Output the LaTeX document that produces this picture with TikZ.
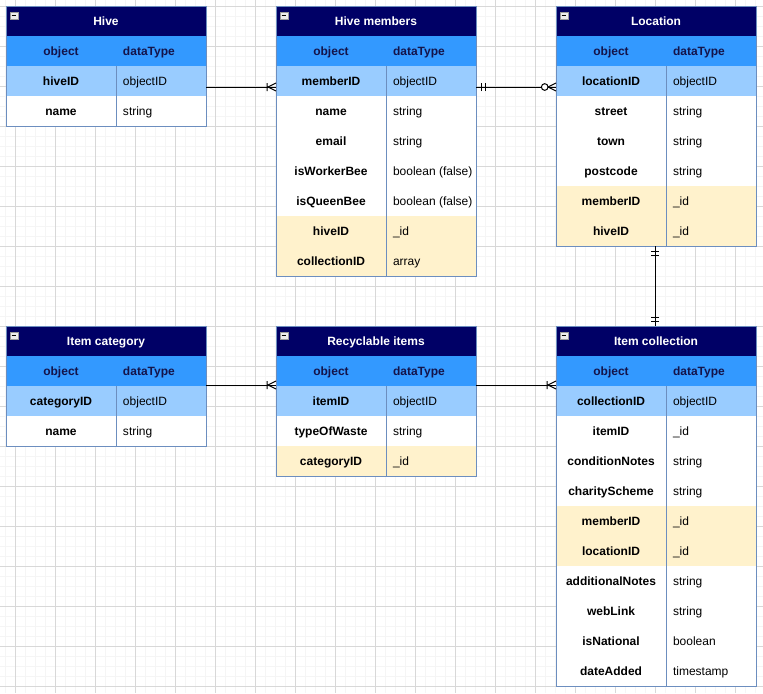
\documentclass[tikz,border=0pt]{standalone}
\usepackage{fontspec}
\setmainfont{Liberation Sans}
\usetikzlibrary{positioning}

\definecolor{titlenavy}{HTML}{000066}
\definecolor{headblue}{HTML}{3399FF}
\definecolor{keyblue}{HTML}{99CCFF}
\definecolor{fkcream}{HTML}{FFF2CC}
\definecolor{edgeblue}{HTML}{6C8EBF}
\definecolor{headtext}{HTML}{14144A}
\definecolor{gridmajor}{HTML}{D8D8D8}
\definecolor{gridminor}{HTML}{F5F5F5}

% one table row: bold name centred, type left aligned
\newcommand{\fld}[2]{\makebox[82.5pt][c]{\bfseries #1}\makebox[67.5pt][l]{\hspace{5.25pt}#2}}

\begin{document}
\begin{tikzpicture}[
  x=0.75pt, y=-0.75pt,
  font=\fontsize{9}{11}\selectfont,
  every node/.style={inner sep=0pt, outer sep=0pt},
  cell/.style={minimum width=150pt, minimum height=22.5pt, text height=7.2pt, text depth=0pt},
  tabtitle/.style={cell, fill=titlenavy, text=white, font=\fontsize{9}{11}\selectfont\bfseries, anchor=north west},
  colhead/.style={cell, fill=headblue, text=headtext},
  field/.style={cell, path picture={\draw[edgeblue, line width=0.75pt]
    ([xshift=82.5pt]path picture bounding box.north west) -- ([xshift=82.5pt]path picture bounding box.south west);}},
  pkey/.style={field, fill=keyblue},
  attr/.style={field, fill=white},
  fkey/.style={field, fill=fkcream},
  tabedge/.style={draw=edgeblue, line width=0.75pt},
  collapse/.style={minimum width=6pt, minimum height=5.25pt, fill=gray!15, draw=gray!80, line width=0.4pt,
    path picture={\draw[black, line width=1pt] ([xshift=1.2pt]path picture bounding box.west) -- ([xshift=-1.2pt]path picture bounding box.east);}},
  rel/.style={draw=black, line width=0.75pt},
  minorline/.style={draw=gridminor, line width=0.75pt},
  majorline/.style={draw=gridmajor, line width=0.75pt},
  pics/onemany/.style={code={\draw[rel] (-9,-4) -- (-9,4) (0,-4) -- (-8,0) -- (0,4);}},
  pics/mandone/.style={code={\draw[rel] (-5,-4) -- (-5,4) (-9,-4) -- (-9,4);}},
  pics/zeromany/.style={code={\draw[rel] (0,-4) -- (-8,0) -- (0,4); \draw[rel, fill=white] (-11.3,0) circle[radius=2.5pt];}}
]
\useasboundingbox (0,0) rectangle (763,693);
% background grid
\fill[white] (0,0) rectangle (763,693);
\foreach \gx in {5,15,...,763} \draw[minorline] (\gx,0) -- (\gx,693);
\foreach \gy in {6,16,...,693} \draw[minorline] (0,\gy) -- (763,\gy);
\foreach \gx in {15,55,...,763} \draw[majorline] (\gx,0) -- (\gx,693);
\foreach \gy in {6,46,...,693} \draw[majorline] (0,\gy) -- (763,\gy);

% Hive
\node[tabtitle] (hive) at (6,6) {Hive};
\node[colhead, below=0pt of hive] (hive-0) {\fld{object}{\bfseries dataType}};
\node[pkey, below=0pt of hive-0] (hive-1) {\fld{hiveID}{objectID}};
\node[attr, below=0pt of hive-1] (hive-2) {\fld{name}{string}};
\draw[tabedge] (hive.north west) rectangle (hive-2.south east);
\node[collapse] at ([shift={(8,9.5)}]hive.north west) {};

% Hive members
\node[tabtitle] (mem) at (276,6) {Hive members};
\node[colhead, below=0pt of mem] (mem-0) {\fld{object}{\bfseries dataType}};
\node[pkey, below=0pt of mem-0] (mem-1) {\fld{memberID}{objectID}};
\node[attr, below=0pt of mem-1] (mem-2) {\fld{name}{string}};
\node[attr, below=0pt of mem-2] (mem-3) {\fld{email}{string}};
\node[attr, below=0pt of mem-3] (mem-4) {\fld{isWorkerBee}{boolean (false)}};
\node[attr, below=0pt of mem-4] (mem-5) {\fld{isQueenBee}{boolean (false)}};
\node[fkey, below=0pt of mem-5] (mem-6) {\fld{hiveID}{\_id}};
\node[fkey, below=0pt of mem-6] (mem-7) {\fld{collectionID}{array}};
\draw[tabedge] (mem.north west) rectangle (mem-7.south east);
\node[collapse] at ([shift={(8,9.5)}]mem.north west) {};

% Location
\node[tabtitle] (loc) at (556,6) {Location};
\node[colhead, below=0pt of loc] (loc-0) {\fld{object}{\bfseries dataType}};
\node[pkey, below=0pt of loc-0] (loc-1) {\fld{locationID}{objectID}};
\node[attr, below=0pt of loc-1] (loc-2) {\fld{street}{string}};
\node[attr, below=0pt of loc-2] (loc-3) {\fld{town}{string}};
\node[attr, below=0pt of loc-3] (loc-4) {\fld{postcode}{string}};
\node[fkey, below=0pt of loc-4] (loc-5) {\fld{memberID}{\_id}};
\node[fkey, below=0pt of loc-5] (loc-6) {\fld{hiveID}{\_id}};
\draw[tabedge] (loc.north west) rectangle (loc-6.south east);
\node[collapse] at ([shift={(8,9.5)}]loc.north west) {};

% Item category
\node[tabtitle] (cat) at (6,326) {Item category};
\node[colhead, below=0pt of cat] (cat-0) {\fld{object}{\bfseries dataType}};
\node[pkey, below=0pt of cat-0] (cat-1) {\fld{categoryID}{objectID}};
\node[attr, below=0pt of cat-1] (cat-2) {\fld{name}{string}};
\draw[tabedge] (cat.north west) rectangle (cat-2.south east);
\node[collapse] at ([shift={(8,9.5)}]cat.north west) {};

% Recyclable items
\node[tabtitle] (rec) at (276,326) {Recyclable items};
\node[colhead, below=0pt of rec] (rec-0) {\fld{object}{\bfseries dataType}};
\node[pkey, below=0pt of rec-0] (rec-1) {\fld{itemID}{objectID}};
\node[attr, below=0pt of rec-1] (rec-2) {\fld{typeOfWaste}{string}};
\node[fkey, below=0pt of rec-2] (rec-3) {\fld{categoryID}{\_id}};
\draw[tabedge] (rec.north west) rectangle (rec-3.south east);
\node[collapse] at ([shift={(8,9.5)}]rec.north west) {};

% Item collection
\node[tabtitle] (col) at (556,326) {Item collection};
\node[colhead, below=0pt of col] (col-0) {\fld{object}{\bfseries dataType}};
\node[pkey, below=0pt of col-0] (col-1) {\fld{collectionID}{objectID}};
\node[attr, below=0pt of col-1] (col-2) {\fld{itemID}{\_id}};
\node[attr, below=0pt of col-2] (col-3) {\fld{conditionNotes}{string}};
\node[attr, below=0pt of col-3] (col-4) {\fld{charityScheme}{string}};
\node[fkey, below=0pt of col-4] (col-5) {\fld{memberID}{\_id}};
\node[fkey, below=0pt of col-5] (col-6) {\fld{locationID}{\_id}};
\node[attr, below=0pt of col-6] (col-7) {\fld{additionalNotes}{string}};
\node[attr, below=0pt of col-7] (col-8) {\fld{webLink}{string}};
\node[attr, below=0pt of col-8] (col-9) {\fld{isNational}{boolean}};
\node[attr, below=0pt of col-9] (col-10) {\fld{dateAdded}{timestamp}};
\draw[tabedge] (col.north west) rectangle (col-10.south east);
\node[collapse] at ([shift={(8,9.5)}]col.north west) {};

% relations
\draw[rel] ([yshift=-4.5pt]hive-1.east) -- ([yshift=-4.5pt]mem-1.west);
\pic at ([yshift=-4.5pt]mem-1.west) {onemany};
\draw[rel] ([yshift=-4.5pt]mem-1.east) -- ([yshift=-4.5pt]loc-1.west);
\pic[rotate=180] at ([yshift=-4.5pt]mem-1.east) {mandone};
\pic at ([yshift=-4.5pt]loc-1.west) {zeromany};
\draw[rel] ([xshift=-0.75pt]loc-6.south) -- ([xshift=-0.75pt]col.north);
\pic[rotate=90] at ([xshift=-0.75pt]loc-6.south) {mandone};
\pic[rotate=-90] at ([xshift=-0.75pt]col.north) {mandone};
\draw[rel] ([yshift=0.75pt]cat-1.north east) -- ([yshift=0.75pt]rec-1.north west);
\pic at ([yshift=0.75pt]rec-1.north west) {onemany};
\draw[rel] ([yshift=0.75pt]rec-1.north east) -- ([yshift=0.75pt]col-1.north west);
\pic at ([yshift=0.75pt]col-1.north west) {onemany};
\end{tikzpicture}
\end{document}
